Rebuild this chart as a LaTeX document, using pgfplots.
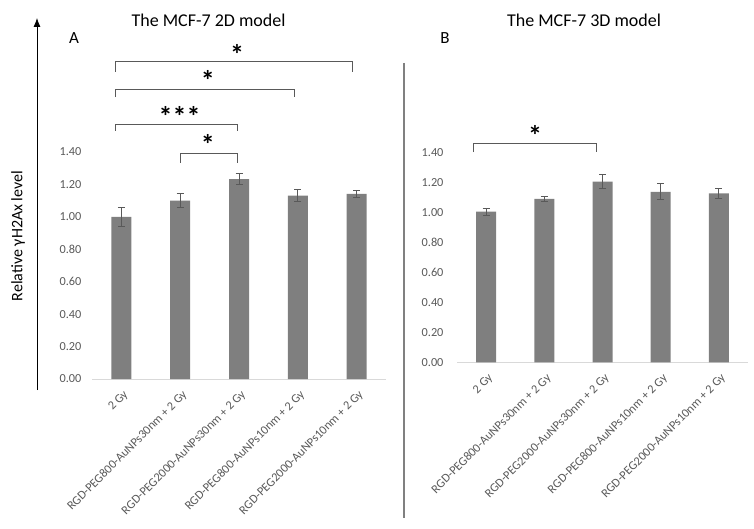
\documentclass[border=0pt]{standalone}
\usepackage{fontspec}
\setmainfont{Carlito}
\usepackage{pgfplots}
\pgfplotsset{compat=1.18}
\usetikzlibrary{arrows.meta}
\definecolor{bargray}{HTML}{7F7F7F}
\definecolor{txtgray}{HTML}{595959}
\definecolor{axgray}{HTML}{D9D9D9}
\pgfplotsset{
 mystyle/.style={
  scale only axis, clip=false,
  ymin=0, ymax=1.4, xmin=-0.5, xmax=4.5,
  ytick={0,0.2,0.4,0.6,0.8,1.0,1.2,1.4},
  xtick={0,1,2,3,4},
  xticklabels={2 Gy, RGD-PEG800-AuNPs30nm + 2 Gy, RGD-PEG2000-AuNPs30nm + 2 Gy, RGD-PEG800-AuNPs10nm + 2 Gy, RGD-PEG2000-AuNPs10nm + 2 Gy},
  axis line style={draw=none},
  major tick length=0pt,
  tick style={draw=none},
  /pgf/number format/assume math mode=true,
  yticklabel style={/pgf/number format/fixed, /pgf/number format/fixed zerofill, /pgf/number format/precision=2},
  ticklabel style={font=\fontsize{12.3}{14}\selectfont, text=txtgray},
  xticklabel style={xshift=5pt, yshift=-14pt, rotate=45, anchor=east, inner sep=0pt},
 },
 bars/.style={ybar, bar width=20pt, fill=bargray, draw=none,
  error bars/.cd, y dir=both, y explicit,
  error bar style={line width=1pt, color=txtgray},
  error mark options={rotate=90, mark size=3.5pt, line width=1pt, color=txtgray}},
}
\tikzset{
 brk/.style={txtgray, line width=0.8pt},
 star/.style={font=\fontsize{28}{28}\selectfont\bfseries, inner sep=0pt},
}
\begin{document}
\begin{tikzpicture}
\useasboundingbox (0pt,0pt) rectangle (754pt,-529pt);
\begin{axis}[mystyle, at={(92pt,-379pt)}, anchor=south west, width=294pt, height=227pt,
  yticklabel style={xshift=-7pt}]
\draw[axgray, line width=1pt] (axis cs:-0.5,0) -- (axis cs:4.5,0);
\addplot[bars] coordinates {(0,1.000) +- (0,0.060) (1,1.100) +- (0,0.045) (2,1.232) +- (0,0.033) (3,1.131) +- (0,0.035) (4,1.141) +- (0,0.021)};
\draw[brk] (axis cs:-0.1,1.894) |- (axis cs:3.92,1.956) -- (axis cs:3.92,1.894);
\draw[brk] (axis cs:-0.1,1.739) |- (axis cs:2.95,1.789) -- (axis cs:2.95,1.739);
\draw[brk] (axis cs:-0.1,1.530) |- (axis cs:1.98,1.573) -- (axis cs:1.98,1.530);
\draw[brk] (axis cs:0.997,1.333) |- (axis cs:1.98,1.394) -- (axis cs:1.98,1.333);
\node[star] at (axis cs:1.966,1.999) {*};
\node[star] at (axis cs:1.47,1.838) {*};
\node[star] at (axis cs:0.99,1.622) {***};
\node[star] at (axis cs:1.47,1.444) {*};
\end{axis}
\begin{axis}[mystyle, at={(457pt,-362.3pt)}, anchor=south west, width=291pt, height=210pt,
  yticklabel style={xshift=-10pt}]
\draw[axgray, line width=1pt] (axis cs:-0.5,0) -- (axis cs:4.5,0);
\addplot[bars] coordinates {(0,1.004) +- (0,0.023) (1,1.090) +- (0,0.016) (2,1.204) +- (0,0.047) (3,1.137) +- (0,0.053) (4,1.126) +- (0,0.034)};
\draw[brk] (axis cs:-0.225,1.402) |- (axis cs:1.888,1.462) -- (axis cs:1.888,1.402);
\node[star] at (axis cs:0.84,1.515) {*};
\end{axis}
\node[font=\fontsize{18}{20}\selectfont] at (208.5pt,-20pt) {The MCF-7 2D model};
\node[font=\fontsize{18}{20}\selectfont] at (584pt,-20pt) {The MCF-7 3D model};
\node[font=\fontsize{17}{20}\selectfont] at (74pt,-38pt) {A};
\node[font=\fontsize{17}{20}\selectfont] at (445pt,-38pt) {B};
\node[rotate=90, font=\fontsize{16}{18}\selectfont] at (18pt,-236pt) {Relative γH2Ax level};
\draw[-{Latex[length=9pt,width=7pt]}, line width=0.8pt] (37pt,-390pt) -- (37pt,-18pt);
\draw[gray, line width=1.2pt] (404pt,-63pt) -- (404pt,-518pt);
\end{tikzpicture}
\end{document}
